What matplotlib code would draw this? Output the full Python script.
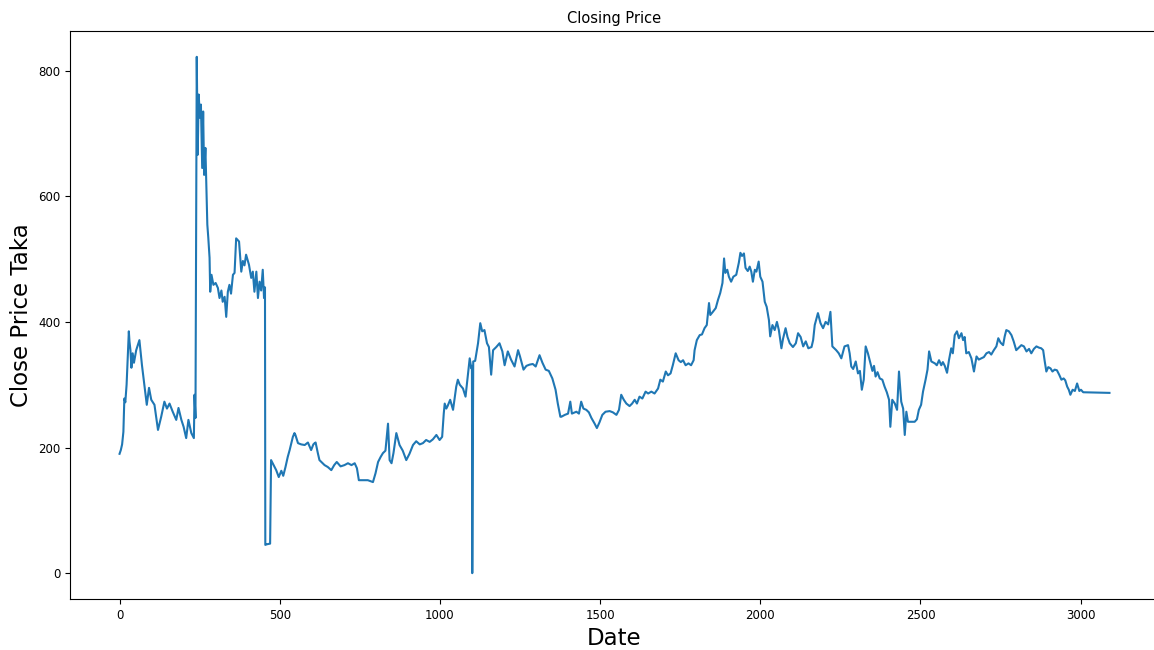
import matplotlib
matplotlib.use('Agg')
import matplotlib.pyplot as plt

# Closing price readings (trading-day index, price in Taka)
day_index = [
    0, 4, 8, 12, 15, 18, 22, 25, 29, 31, 34, 37, 41, 45, 52, 62, 70, 78, 85, 92,
    99, 109, 120, 130, 140, 148, 156, 166, 177, 184, 193, 200, 208, 215, 224, 232, 234, 237, 241, 244,
    247, 251, 254, 258, 261, 264, 268, 271, 274, 277, 281, 283, 287, 293, 300, 307, 312, 318, 322, 328,
    333, 338, 343, 348, 354, 359, 364, 373, 380, 385, 390, 395, 404, 411, 416, 421, 427, 432, 437, 442,
    447, 451, 454, 455, 460, 470, 473, 477, 483, 489, 497, 505, 511, 518, 525, 531, 541, 546, 549, 557,
    567, 578, 588, 598, 605, 609, 612, 619, 624, 630, 640, 650, 661, 670, 678, 690, 702, 713, 724, 734,
    741, 747, 760, 775, 791, 799, 807, 815, 822, 830, 838, 843, 849, 855, 864, 874, 884, 895, 905, 916,
    926, 937, 947, 957, 968, 978, 989, 999, 1007, 1012, 1015, 1020, 1024, 1032, 1041, 1051, 1056, 1062, 1072, 1080,
    1087, 1093, 1098, 1100, 1101, 1104, 1110, 1119, 1126, 1132, 1139, 1147, 1153, 1160, 1166, 1176, 1186, 1195, 1202, 1212,
    1222, 1233, 1244, 1250, 1261, 1270, 1280, 1290, 1299, 1311, 1320, 1330, 1340, 1351, 1361, 1368, 1376, 1379, 1390, 1400,
    1407, 1412, 1426, 1434, 1441, 1448, 1457, 1465, 1473, 1483, 1490, 1498, 1507, 1517, 1530, 1540, 1551, 1559, 1566, 1574,
    1582, 1592, 1600, 1608, 1615, 1623, 1632, 1642, 1650, 1660, 1670, 1681, 1688, 1696, 1705, 1712, 1720, 1727, 1736, 1745,
    1752, 1759, 1767, 1776, 1784, 1792, 1795, 1802, 1811, 1818, 1826, 1833, 1840, 1844, 1852, 1861, 1868, 1875, 1882, 1887,
    1891, 1897, 1902, 1909, 1916, 1925, 1933, 1938, 1943, 1949, 1954, 1961, 1967, 1972, 1977, 1983, 1988, 1995, 2000, 2007,
    2014, 2020, 2027, 2031, 2038, 2045, 2052, 2058, 2066, 2071, 2079, 2085, 2092, 2102, 2111, 2118, 2126, 2134, 2142, 2150,
    2160, 2165, 2170, 2180, 2188, 2196, 2204, 2212, 2219, 2225, 2231, 2237, 2245, 2253, 2263, 2274, 2279, 2284, 2290, 2298,
    2305, 2311, 2317, 2323, 2329, 2336, 2344, 2350, 2355, 2360, 2366, 2373, 2381, 2388, 2395, 2402, 2406, 2412, 2420, 2427,
    2433, 2440, 2446, 2451, 2456, 2461, 2470, 2482, 2489, 2495, 2502, 2508, 2516, 2522, 2527, 2534, 2545, 2551, 2558, 2565,
    2570, 2576, 2583, 2589, 2596, 2601, 2607, 2614, 2620, 2628, 2633, 2638, 2643, 2651, 2659, 2667, 2675, 2682, 2690, 2698,
    2706, 2714, 2721, 2729, 2737, 2743, 2750, 2758, 2763, 2768, 2776, 2784, 2791, 2799, 2807, 2815, 2823, 2831, 2839, 2846,
    2854, 2862, 2870, 2877, 2883, 2888, 2893, 2899, 2906, 2912, 2919, 2926, 2933, 2940, 2947, 2952, 2958, 2963, 2968, 2975,
    2982, 2989, 2996, 3001, 3008, 3090,
]

close_price = [
    190, 196, 205, 225, 278, 272, 300, 335, 385, 369, 355, 327, 350, 335, 355, 371, 331, 297, 268, 295,
    276, 268, 228, 249, 273, 262, 270, 257, 244, 263, 244, 233, 215, 244, 223, 215, 284, 247, 822, 666,
    762, 725, 746, 645, 735, 634, 677, 618, 555, 534, 502, 448, 475, 459, 462, 454, 438, 450, 432, 440,
    408, 448, 459, 445, 475, 478, 533, 528, 480, 497, 490, 507, 491, 470, 480, 448, 480, 438, 464, 450,
    483, 438, 455, 45, 46, 47, 180, 176, 170, 164, 153, 163, 155, 169, 185, 196, 217, 223, 220, 207,
    205, 204, 208, 196, 205, 207, 208, 191, 180, 177, 172, 169, 164, 172, 177, 170, 172, 175, 172, 175,
    167, 148, 148, 148, 145, 159, 177, 185, 191, 195, 238, 180, 175, 191, 223, 204, 195, 180, 190, 204,
    210, 205, 207, 212, 209, 213, 220, 212, 217, 254, 270, 262, 266, 276, 260, 297, 308, 300, 294, 281,
    313, 342, 326, 330, 0, 337, 338, 366, 398, 385, 387, 366, 360, 316, 355, 360, 366, 353, 331, 353,
    340, 329, 355, 345, 324, 330, 332, 333, 329, 347, 335, 324, 322, 310, 292, 270, 249, 249, 252, 254,
    273, 254, 257, 254, 273, 262, 260, 256, 247, 238, 231, 240, 252, 257, 258, 256, 252, 260, 284, 276,
    270, 266, 270, 276, 270, 281, 278, 289, 286, 289, 286, 294, 308, 305, 321, 315, 318, 331, 350, 339,
    336, 339, 331, 334, 331, 339, 355, 371, 379, 380, 390, 395, 430, 411, 416, 422, 435, 446, 462, 501,
    478, 483, 472, 464, 472, 475, 494, 510, 505, 509, 486, 481, 488, 480, 464, 483, 480, 496, 472, 464,
    432, 424, 403, 377, 395, 387, 400, 387, 358, 373, 390, 376, 366, 360, 366, 382, 376, 361, 369, 358,
    360, 371, 395, 414, 398, 390, 400, 396, 416, 361, 358, 355, 350, 342, 361, 363, 350, 329, 325, 337,
    318, 322, 292, 308, 361, 350, 334, 322, 330, 313, 320, 310, 308, 297, 288, 276, 233, 276, 270, 260,
    321, 273, 262, 220, 257, 241, 241, 241, 245, 260, 268, 289, 308, 324, 353, 337, 334, 331, 339, 331,
    336, 330, 319, 339, 358, 350, 379, 385, 374, 382, 371, 376, 350, 352, 342, 321, 345, 340, 342, 344,
    350, 352, 348, 355, 361, 374, 367, 363, 377, 387, 385, 379, 369, 355, 359, 363, 361, 353, 357, 350,
    357, 361, 359, 358, 355, 337, 321, 328, 326, 321, 324, 323, 316, 308, 310, 307, 297, 292, 284, 292,
    290, 302, 290, 292, 288, 287,
]

fig = plt.figure(figsize=(11.54, 6.5), dpi=100)
ax = fig.add_axes([0.0607, 0.0785, 0.9436, 0.8738])

ax.plot(day_index, close_price, color='#1f77b4', linewidth=1.5)
ax.set_title('Closing Price', fontsize=10.5)
ax.set_xlabel('Date', fontsize=16.5)
ax.set_ylabel('Close Price Taka', fontsize=16.5)
ax.set_xticks([0, 500, 1000, 1500, 2000, 2500, 3000])
ax.set_yticks([0, 200, 400, 600, 800])
ax.tick_params(labelsize=8.5)

fig.savefig('out.png', dpi=100)
